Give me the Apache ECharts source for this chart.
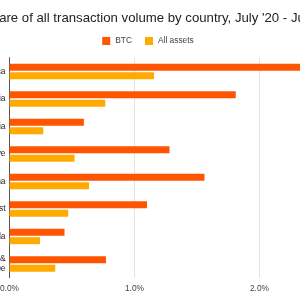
<!DOCTYPE html>
<html>
<head>
<meta charset="utf-8">
<style>
  html, body { margin: 0; padding: 0; width: 300px; height: 300px; overflow: hidden; background: #fff; }
  .wrap { position: relative; width: 300px; height: 300px; overflow: hidden; }
  .wrap .main { position: absolute; left: -110px; top: 0; width: 516px; height: 300px; }
</style>
<script src="https://cdn.jsdelivr.net/npm/echarts@6/dist/echarts.min.js"></script>
</head>
<body>
<div class="wrap">
  <div class="main"></div>
</div>
<script>
// share of transaction volume, in %
var countries = ['South Africa', 'Nigeria', 'Tanzania', 'Zimbabwe', 'Ghana', 'Ivory Coast', 'Uganda', 'Sao Tome &\nPrincipe'];
var btcShare = [2.4, 1.81, 0.595, 1.28, 1.56, 1.1, 0.44, 0.772];
var allAssetsShare = [1.156, 0.766, 0.27, 0.52, 0.636, 0.47, 0.244, 0.366];
var xTicks = [0, 1, 2, 3];

var font = 'Arial, "Liberation Sans", sans-serif';
var myChart = echarts.init(document.querySelector('.wrap .main'));

myChart.setOption({
  animation: false,
  title: {
    text: "Share of all transaction volume by country, July '20 - June '21",
    left: 88,
    top: 7,
    textStyle: {
      fontFamily: font,
      fontSize: 13.2,
      fontWeight: 'normal',
      color: '#222'
    }
  },
  legend: {
    top: 32,
    left: 'center',
    icon: 'rect',
    itemWidth: 8,
    itemHeight: 8,
    itemGap: 13,
    textStyle: {
      fontFamily: font,
      fontSize: 8.4,
      color: '#444'
    },
    data: ['BTC', 'All assets']
  },
  grid: {
    left: 119.5,
    top: 57.75,
    width: 375,
    height: 220,
    containLabel: false
  },
  xAxis: {
    type: 'value',
    min: xTicks[0],
    max: xTicks[xTicks.length - 1],
    interval: 1,
    axisLine: { show: false },
    axisTick: { show: false },
    splitLine: {
      lineStyle: { color: '#e3e3e3' }
    },
    axisLabel: {
      margin: 7,
      fontFamily: font,
      fontSize: 8.4,
      color: '#444',
      formatter: function (v) { return v.toFixed(1) + '%'; }
    }
  },
  yAxis: {
    type: 'category',
    inverse: true,
    data: countries,
    axisTick: { show: false },
    axisLine: {
      lineStyle: { color: '#555' }
    },
    axisLabel: {
      margin: 4,
      fontFamily: font,
      fontSize: 8.4,
      lineHeight: 10,
      color: '#222'
    }
  },
  series: [{
    name: 'BTC',
    type: 'bar',
    barWidth: 7,
    barGap: '20%',
    itemStyle: { color: '#ff5500' },
    data: btcShare
  }, {
    name: 'All assets',
    type: 'bar',
    barWidth: 7,
    barGap: '20%',
    itemStyle: { color: '#ffaa00' },
    data: allAssetsShare
  }]
});

window.addEventListener('resize', function () {
  myChart.resize();
});
</script>
</body>
</html>
